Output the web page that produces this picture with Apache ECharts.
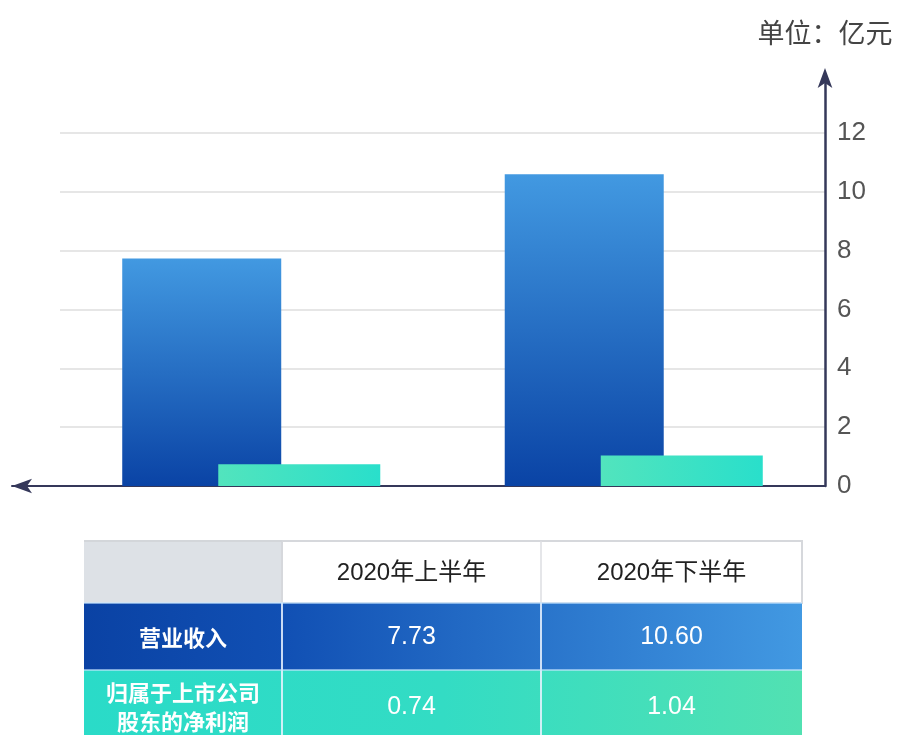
<!DOCTYPE html>
<html>
<head>
<meta charset="utf-8">
<script src="https://cdn.jsdelivr.net/npm/echarts@6/dist/echarts.min.js"></script>
<style>
  html, body { margin: 0; padding: 0; background: #ffffff; }
  #chart { width: 899px; height: 735px; }
</style>
</head>
<body>
<div id="chart"></div>
<script>
// Half-year figures, in 亿元
const periods = ['2020年上半年', '2020年下半年'];
const revenue = [7.73, 10.60];
const netProfit = [0.74, 1.04];
const rowLabels = ['营业收入', '归属于上市公司\n股东的净利润'];
const unitLabel = '单位：亿元';

const FONT = "'Liberation Sans', 'Noto Sans CJK SC', sans-serif";
const AXIS_DARK = '#35385a';

const chart = echarts.init(document.getElementById('chart'));

// ---- summary table under the chart, built from the same arrays ----
const colEdges = [84, 282, 541, 802];
const rowEdges = [541, 603, 670, 742];

function hGrad(stops) {
  return new echarts.graphic.LinearGradient(0, 0, 1, 0, stops);
}

const tableRows = [
  { label: rowLabels[0], values: revenue,
    fill: hGrad([{ offset: 0, color: '#0a42a4' }, { offset: 0.28, color: '#1150b4' }, { offset: 1, color: '#4299e2' }]) },
  { label: rowLabels[1], values: netProfit,
    fill: hGrad([{ offset: 0, color: '#2adbc8' }, { offset: 0.5, color: '#33dcc4' }, { offset: 1, color: '#52e1b2' }]) }
];

const tableEls = [];
// header row
tableEls.push({
  type: 'rect', shape: { x: colEdges[0], y: rowEdges[0], width: colEdges[1] - colEdges[0], height: rowEdges[1] - rowEdges[0] },
  style: { fill: '#dde1e6' }
});
tableEls.push({
  type: 'rect', shape: { x: colEdges[1], y: rowEdges[0], width: colEdges[3] - colEdges[1], height: rowEdges[1] - rowEdges[0] },
  style: { fill: '#ffffff', stroke: '#d6d8dc', lineWidth: 2 }
});
tableEls.push({
  type: 'line', shape: { x1: colEdges[0], y1: rowEdges[0], x2: colEdges[1], y2: rowEdges[0] },
  style: { stroke: '#d3d6da', lineWidth: 2 }
});
tableEls.push({
  type: 'line', shape: { x1: colEdges[2], y1: rowEdges[0], x2: colEdges[2], y2: rowEdges[1] },
  style: { stroke: '#dcdee2', lineWidth: 1.5 }
});
periods.forEach(function (p, i) {
  tableEls.push({
    type: 'text', x: (colEdges[i + 1] + colEdges[i + 2]) / 2, y: (rowEdges[0] + rowEdges[1]) / 2 + 1,
    style: { text: p, fill: '#222222', fontSize: 24, fontFamily: FONT, align: 'center', verticalAlign: 'middle' }
  });
});
// body rows
tableRows.forEach(function (row, r) {
  const y0 = rowEdges[r + 1], y1 = rowEdges[r + 2];
  tableEls.push({
    type: 'rect', shape: { x: colEdges[0], y: y0, width: colEdges[3] - colEdges[0], height: y1 - y0 },
    style: { fill: row.fill }
  });
  tableEls.push({
    type: 'text', x: (colEdges[0] + colEdges[1]) / 2, y: (y0 + y1) / 2 + 1,
    style: { text: row.label, fill: '#ffffff', fontSize: 22, fontWeight: 'bold', lineHeight: 29,
      fontFamily: "'Noto Sans CJK SC', sans-serif", align: 'center', verticalAlign: 'middle' }
  });
  row.values.forEach(function (v, i) {
    tableEls.push({
      type: 'text', x: (colEdges[i + 1] + colEdges[i + 2]) / 2, y: (y0 + y1) / 2 + 1,
      style: { text: v.toFixed(2), fill: '#ffffff', fontSize: 25, fontFamily: FONT, align: 'center', verticalAlign: 'middle' }
    });
  });
});
// cell separators
[colEdges[1], colEdges[2]].forEach(function (x) {
  tableEls.push({
    type: 'line', shape: { x1: x, y1: rowEdges[1], x2: x, y2: rowEdges[3] },
    style: { stroke: 'rgba(235,243,255,0.85)', lineWidth: 2 }
  });
});
[rowEdges[1], rowEdges[2]].forEach(function (y) {
  tableEls.push({
    type: 'line', shape: { x1: colEdges[0], y1: y, x2: colEdges[3], y2: y },
    style: { stroke: 'rgba(200,230,255,0.8)', lineWidth: 1.5 }
  });
});

const option = {
  backgroundColor: '#ffffff',
  animation: false,
  grid: [
    { left: 60, right: 74, top: 80, bottom: 249 },
    // full-width strip carrying the left-pointing baseline arrow
    { left: 12, right: 74, top: 80, bottom: 249 }
  ],
  xAxis: [
    {
      type: 'category', gridIndex: 0, data: periods,
      axisLine: { show: false }, axisTick: { show: false }, axisLabel: { show: false }
    },
    {
      type: 'value', gridIndex: 1, min: 0, max: 1,
      axisLine: { show: true, symbol: ['arrow', 'none'], symbolSize: [11, 20],
        lineStyle: { color: AXIS_DARK, width: 2 } },
      axisTick: { show: false }, axisLabel: { show: false }, splitLine: { show: false }
    }
  ],
  yAxis: [
    {
      type: 'value', gridIndex: 0, position: 'right',
      min: 0, max: 13.8, interval: 2,
      name: unitLabel, nameLocation: 'end', nameGap: 31,
      nameTextStyle: { fontSize: 27, color: '#444444', fontFamily: FONT, align: 'center' },
      axisLine: { show: true, symbol: ['none', 'arrow'], symbolSize: [11, 20], symbolOffset: [0, 12],
        lineStyle: { color: AXIS_DARK, width: 2.5 } },
      axisTick: { show: false },
      axisLabel: { show: true, showMaxLabel: false, margin: 12, fontSize: 26, color: '#555555', fontFamily: FONT },
      splitLine: { show: true, showMaxLine: false, showMinLine: false, lineStyle: { color: '#e6e6e6', width: 2 } }
    },
    { type: 'value', gridIndex: 1, show: false, min: 0, max: 1 }
  ],
  series: [
    {
      name: '营业收入', type: 'bar', xAxisIndex: 0, yAxisIndex: 0,
      data: revenue, barWidth: 159, barGap: '-39.6%',
      itemStyle: {
        color: new echarts.graphic.LinearGradient(0, 0, 0, 1, [
          { offset: 0, color: '#4299e1' }, { offset: 1, color: '#0a43a5' }
        ])
      }
    },
    {
      name: '归属于上市公司股东的净利润', type: 'bar', xAxisIndex: 0, yAxisIndex: 0,
      data: netProfit, barWidth: 162, barGap: '-39.6%',
      itemStyle: {
        color: hGrad([{ offset: 0, color: '#52e4bd' }, { offset: 1, color: '#29dfcb' }])
      }
    }
  ],
  graphic: { elements: tableEls }
};

chart.setOption(option);
</script>
</body>
</html>
